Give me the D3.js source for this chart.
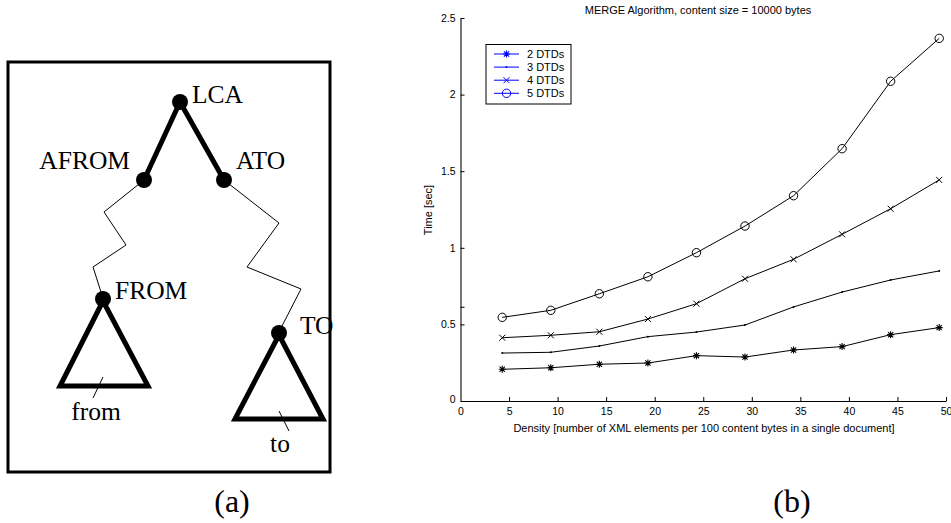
<!DOCTYPE html>
<html><head><meta charset="utf-8">
<script src="https://cdn.jsdelivr.net/npm/d3@7"></script>
<style>html,body{margin:0;padding:0;background:#fff;}svg{display:block;}</style>
</head><body>
<script>
// ---------- data ----------
const density = [4.3, 9.3, 14.3, 19.3, 24.3, 29.3, 34.3, 39.3, 44.3, 49.3];
const seriesNames = ["2 DTDs", "3 DTDs", "4 DTDs", "5 DTDs"];
const dtd2 = [0.207, 0.217, 0.240, 0.248, 0.296, 0.287, 0.333, 0.355, 0.433, 0.479];
const dtd3 = [0.313, 0.318, 0.359, 0.420, 0.450, 0.496, 0.614, 0.711, 0.790, 0.849];
const dtd4 = [0.413, 0.429, 0.452, 0.535, 0.635, 0.798, 0.925, 1.088, 1.255, 1.443];
const dtd5 = [0.546, 0.592, 0.700, 0.811, 0.968, 1.142, 1.340, 1.647, 2.087, 2.367];
const xTicks = [0, 5, 10, 15, 20, 25, 30, 35, 40, 45, 50];
const yTicks = [0, 0.5, 1, 1.5, 2, 2.5];
const yStrayTick = [0.615];
const markerTypes = ["asterisk", "dot", "cross", "circle"];
const chartTitle = "MERGE Algorithm, content size = 10000 bytes";
const xLabel = "Density [number of XML elements per 100 content bytes in a single document]";
const yLabel = "Time [sec]";

// diagram (a) content
const treeNodes = [
  {id: "LCA", label: "LCA", p: [180, 102]},
  {id: "AFROM", label: "AFROM", p: [144, 180]},
  {id: "ATO", label: "ATO", p: [224, 180]},
  {id: "FROM", label: "FROM", p: [103, 299]},
  {id: "TO", label: "TO", p: [279, 333]}
];

const W = 951, H = 523;
const svg = d3.select("body").append("svg").attr("width", W).attr("height", H);

// ---------- (a) diagram ----------
const g = svg.append("g");
const serif = "'Liberation Serif', 'Times New Roman', serif";
g.append("rect").attr("x", 8).attr("y", 62).attr("width", 322).attr("height", 410)
  .attr("fill", "none").attr("stroke", "#000").attr("stroke-width", 3);
const P = Object.fromEntries(treeNodes.map(n => [n.id, n.p]));
const line = d3.line();
g.append("path").attr("d", line([P.AFROM, P.LCA, P.ATO])).attr("fill", "none")
  .attr("stroke", "#000").attr("stroke-width", 5).attr("stroke-linejoin", "round");
const zigL = [P.AFROM, [104, 212], [126, 245], [93, 267], [101, 292], P.FROM];
const zigR = [P.ATO, [279, 223], [247, 267], [301, 289], [282, 326], P.TO];
[zigL, zigR].forEach(z => g.append("path").attr("d", line(z)).attr("fill", "none")
  .attr("stroke", "#000").attr("stroke-width", 1));
const triL = [[103, 301], [60, 386], [148, 386]];
const triR = [[279, 335], [235, 419], [323, 419]];
[triL, triR].forEach(t => g.append("path").attr("d", line(t) + "Z").attr("fill", "none")
  .attr("stroke", "#000").attr("stroke-width", 5).attr("stroke-linejoin", "miter"));
g.append("path").attr("d", line([[103, 377], [93, 398]])).attr("stroke", "#000").attr("stroke-width", 1);
g.append("path").attr("d", line([[279, 411], [289, 431]])).attr("stroke", "#000").attr("stroke-width", 1);
g.selectAll("circle.node").data(treeNodes).join("circle").attr("class", "node")
  .attr("cx", d => d.p[0]).attr("cy", d => d.p[1]).attr("r", 8).attr("fill", "#000");
const labelPos = {LCA: [192, 103, "start"], AFROM: [130, 169, "end"], ATO: [236, 169, "start"],
  FROM: [115, 299, "start"], TO: [300, 334, "start"]};
g.selectAll("text.nl").data(treeNodes).join("text").attr("class", "nl")
  .attr("x", d => labelPos[d.id][0]).attr("y", d => labelPos[d.id][1])
  .attr("text-anchor", d => labelPos[d.id][2])
  .style("font-family", serif).style("font-size", "25.5px").text(d => d.label);
g.append("text").attr("x", 96).attr("y", 420).attr("text-anchor", "middle")
  .style("font-family", serif).style("font-size", "25.5px").text("from");
g.append("text").attr("x", 280).attr("y", 452).attr("text-anchor", "middle")
  .style("font-family", serif).style("font-size", "25.5px").text("to");
g.append("text").attr("x", 232).attr("y", 512).attr("text-anchor", "middle")
  .style("font-family", serif).style("font-size", "32px").text("(a)");
g.append("text").attr("x", 792).attr("y", 512).attr("text-anchor", "middle")
  .style("font-family", serif).style("font-size", "32px").text("(b)");

// ---------- (b) chart ----------
const sans = "'Liberation Sans', Arial, Helvetica, sans-serif";
const x = d3.scaleLinear().domain([0, 50]).range([460.5, 946]);
const y = d3.scaleLinear().domain([0, 2.5]).range([401, 18]);
const c = svg.append("g").style("font-family", sans);

const xAxis = c.append("g").attr("transform", `translate(0,${y(0)})`)
  .call(d3.axisBottom(x).tickValues(xTicks).tickSizeInner(-4).tickSizeOuter(0).tickPadding(7)
    .tickFormat(d3.format("d")));
xAxis.select(".domain").attr("stroke", "#000");
xAxis.selectAll("text").style("font-size", "10.5px").attr("fill", "#000");

const yAxis = c.append("g").attr("transform", `translate(${x(0)},0)`)
  .call(d3.axisLeft(y).tickValues(yTicks.concat(yStrayTick)).tickSizeInner(-4).tickSizeOuter(0).tickPadding(5)
    .tickFormat(d => yTicks.includes(d) ? (d === 0 ? "0" : String(d)) : ""));
yAxis.select(".domain").attr("stroke", "#777").attr("stroke-width", 2);
yAxis.selectAll(".tick line").attr("stroke", "#000");
yAxis.selectAll("text").style("font-size", "10.5px").attr("fill", "#000");
yAxis.selectAll(".tick").filter(d => d === 0).select("text").attr("dy", "0.15em");

c.append("text").attr("x", 698).attr("y", 14).attr("text-anchor", "middle")
  .style("font-size", "11px").text(chartTitle);
c.append("text").attr("x", 704).attr("y", 432).attr("text-anchor", "middle")
  .style("font-size", "11px").text(xLabel);
c.append("text").attr("transform", "translate(432,210) rotate(-90)").attr("text-anchor", "middle")
  .style("font-size", "11px").text(yLabel);

function marker(sel, type, color) {
  if (type === "asterisk") {
    const s = 3.5, d = 2.6;
    sel.append("path").attr("d", `M${-s},0H${s}M0,${-s}V${s}M${-d},${-d}L${d},${d}M${-d},${d}L${d},${-d}`)
      .attr("stroke", color).attr("stroke-width", 1.1).attr("fill", "none");
  } else if (type === "dot") {
    sel.append("circle").attr("r", 1).attr("fill", color);
  } else if (type === "cross") {
    const d = 3;
    sel.append("path").attr("d", `M${-d},${-d}L${d},${d}M${-d},${d}L${d},${-d}`)
      .attr("stroke", color).attr("stroke-width", 1).attr("fill", "none");
  } else if (type === "circle") {
    sel.append("circle").attr("r", 4.2).attr("fill", "none").attr("stroke", color).attr("stroke-width", 1);
  }
}

const allSeries = [dtd2, dtd3, dtd4, dtd5];
const pl = d3.line().x((d, i) => x(density[i])).y(d => y(d));
allSeries.forEach((vals, k) => {
  c.append("path").attr("d", pl(vals)).attr("fill", "none").attr("stroke", "#000").attr("stroke-width", 1);
  vals.forEach((v, i) => {
    const m = c.append("g").attr("transform", `translate(${x(density[i])},${y(v)})`);
    marker(m, markerTypes[k], "#000");
  });
});

// legend
const lg = c.append("g");
lg.append("rect").attr("x", 486).attr("y", 44.5).attr("width", 85).attr("height", 59.5)
  .attr("fill", "#fff").attr("stroke", "#000").attr("stroke-width", 1);
seriesNames.forEach((name, k) => {
  const yy = 54 + k * 13.1;
  lg.append("line").attr("x1", 494).attr("x2", 519).attr("y1", yy).attr("y2", yy)
    .attr("stroke", "#0000ff").attr("stroke-width", 1);
  marker(lg.append("g").attr("transform", `translate(506.5,${yy})`), markerTypes[k], "#0000ff");
  lg.append("text").attr("x", 527).attr("y", yy + 4).style("font-size", "11px").text(name);
});
</script>
</body></html>
